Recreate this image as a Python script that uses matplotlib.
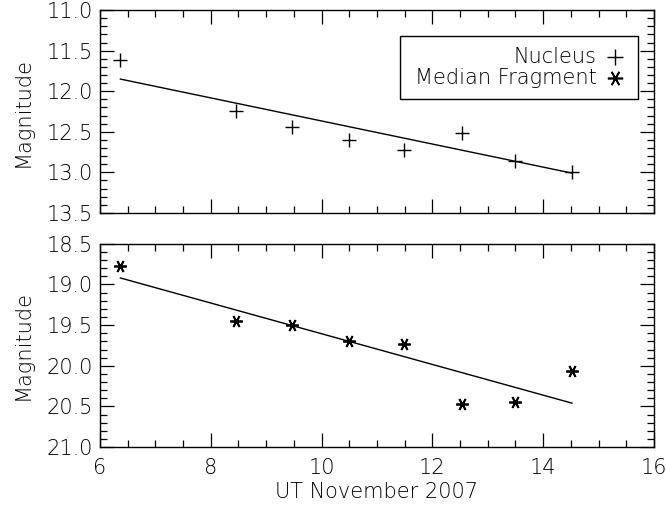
import matplotlib
matplotlib.use('Agg')
import matplotlib.pyplot as plt
from matplotlib.ticker import MultipleLocator

# UT hours, November 2007
ut_hours = [6.37, 8.45, 9.46, 10.50, 11.48, 12.53, 13.49, 14.52]

nucleus_mag = [11.62, 12.24, 12.44, 12.60, 12.72, 12.52, 12.86, 12.99]
fragment_mag = [18.77, 19.45, 19.50, 19.69, 19.73, 20.47, 20.44, 20.07]

# linear fits, values at the first and last hour
nucleus_fit = [11.85, 13.01]
fragment_fit = [18.92, 20.46]

top_yticks = [11.0, 11.5, 12.0, 12.5, 13.0, 13.5]
bot_yticks = [18.5, 19.0, 19.5, 20.0, 20.5, 21.0]
xticks = [6, 8, 10, 12, 14, 16]

plt.rcParams['font.family'] = ['DejaVu Sans']
plt.rcParams['font.size'] = 15
plt.rcParams['font.weight'] = 'light'
plt.rcParams['axes.labelweight'] = 'light'

star = (6, 2, 90)

fig = plt.figure(figsize=(6.66, 5.08), dpi=100)
ax1 = fig.add_axes([0.150, 0.581, 0.832, 0.399])
ax2 = fig.add_axes([0.150, 0.120, 0.832, 0.400])


def style(ax, yticks):
	ax.set_xlim(6, 16)
	ax.set_ylim(yticks[-1], yticks[0])
	ax.set_xticks(xticks)
	ax.set_yticks(yticks)
	ax.yaxis.set_major_formatter(plt.FormatStrFormatter('%.1f'))
	ax.xaxis.set_minor_locator(MultipleLocator(0.5))
	ax.yaxis.set_minor_locator(MultipleLocator(0.1))
	ax.tick_params(which='both', direction='in', top=True, right=True, width=0.9)
	ax.tick_params(which='major', length=10, pad=5)
	ax.tick_params(which='minor', length=5)
	ax.tick_params(axis='x', which='major', pad=8)
	for s in ax.spines.values():
		s.set_linewidth(1.0)
	ax.set_ylabel('Magnitude', labelpad=10)


style(ax1, top_yticks)
ax1.plot(ut_hours, nucleus_mag, ls='none', marker='+', ms=10, mew=1.0, color='black')
ax1.plot([ut_hours[0], ut_hours[-1]], nucleus_fit, color='black', lw=1.0)
ax1.tick_params(labelbottom=False)

style(ax2, bot_yticks)
ax2.plot(ut_hours, fragment_mag, ls='none', marker=star, ms=9, mew=1.3, color='black')
ax2.plot([ut_hours[0], ut_hours[-1]], fragment_fit, color='black', lw=1.0)
ax2.set_xlabel('UT November 2007', labelpad=3)

# legend box drawn by hand, IDL style
ax1.text(0.897, 0.768, 'Nucleus', transform=ax1.transAxes, ha='right', va='center')
ax1.text(0.897, 0.665, 'Median Fragment', transform=ax1.transAxes, ha='right', va='center')
ax1.plot([0.930], [0.768], transform=ax1.transAxes, marker='+', ms=12, mew=1.0, color='black')
ax1.plot([0.930], [0.665], transform=ax1.transAxes, marker=star, ms=11, mew=1.2, color='black')
ax1.add_patch(plt.Rectangle((0.542, 0.562), 0.429, 0.310, transform=ax1.transAxes,
                            fill=False, lw=1.0, ec='black'))

fig.savefig('out.png', dpi=100)
